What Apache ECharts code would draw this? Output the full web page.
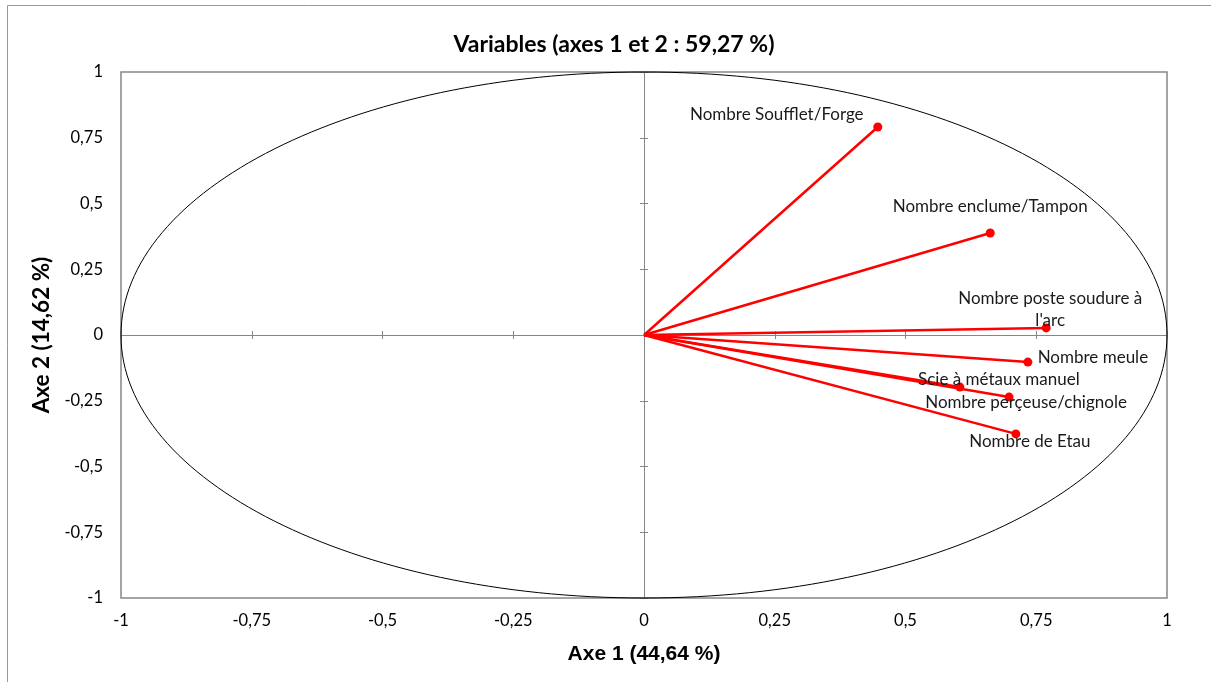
<!DOCTYPE html>
<html>
<head>
<meta charset="utf-8">
<script src="https://cdn.jsdelivr.net/npm/echarts@6/dist/echarts.min.js"></script>
<style>
  html, body { margin: 0; padding: 0; background: #fff; }
  #main { width: 1211px; height: 682px; }
</style>
</head>
<body>
<div id="main"></div>
<script>
// variables of the correlation circle
const varNames = [
  'Nombre Soufflet/Forge',
  'Nombre enclume/Tampon',
  "Nombre poste soudure à\nl'arc",
  'Nombre meule',
  'Scie à métaux manuel',
  'Nombre perçeuse/chignole',
  'Nombre de Etau'
]
const axe1 = [0.447, 0.662, 0.769, 0.734, 0.604, 0.698, 0.711]
const axe2 = [0.791, 0.388, 0.027, -0.103, -0.198, -0.236, -0.376]

// label placement (pixels from the point)
const labelOffsets = [[-101, -12], [0, -26], [4, -18], [65, -5], [39, -8], [17, 5], [14, 8]]

const font = 'Lato'
const gray = '#868686'
const fmt = v => String(v).replace('.', ',')

const chart = echarts.init(document.getElementById('main'))

const gridBox = { left: 121, top: 72, right: 44, bottom: 84 }
const valAxis = {
  type: 'value', min: -1, max: 1, interval: 0.25
}

let series = []
varNames.forEach((name, i) => {
  series.push({
    type: 'line',
    xAxisIndex: 0, yAxisIndex: 0,
    data: [[0, 0], [axe1[i], axe2[i]]],
    showSymbol: false,
    lineStyle: { color: '#ff0000', width: 2.5 },
    z: 3,
    silent: true
  })
})
series.push({
  type: 'scatter',
  xAxisIndex: 0, yAxisIndex: 0,
  data: varNames.map((n, i) => ({
    value: [axe1[i], axe2[i]],
    name: n,
    label: { offset: labelOffsets[i] }
  })),
  symbolSize: 9,
  itemStyle: { color: '#ff0000', opacity: 1 },
  label: {
    show: true,
    position: 'inside',
    formatter: p => p.name,
    color: '#1a1a1a',
    fontFamily: font,
    fontSize: 17,
    lineHeight: 22
  },
  z: 4
})
// unit circle
series.push({
  type: 'custom',
  xAxisIndex: 0, yAxisIndex: 0,
  data: [[0, 0]],
  silent: true,
  z: 2,
  renderItem: (params, api) => {
    const c = api.coord([0, 0])
    const px = api.coord([1, 0])
    const py = api.coord([0, 1])
    return {
      type: 'ellipse',
      shape: { cx: c[0], cy: c[1], rx: px[0] - c[0], ry: c[1] - py[1] },
      style: { fill: null, stroke: '#000', lineWidth: 1 }
    }
  }
})
// empty series for the helper grids
series.push({ type: 'line', xAxisIndex: 1, yAxisIndex: 1, data: [], silent: true })
series.push({ type: 'line', xAxisIndex: 2, yAxisIndex: 2, data: [], silent: true })

chart.setOption({
  animation: false,
  title: {
    text: 'Variables (axes 1 et 2 : 59,27 %)',
    left: 609, top: 28, textAlign: 'center',
    textStyle: { fontFamily: font, fontWeight: 'bold', fontSize: 23, color: '#000' }
  },
  graphic: [{
    type: 'rect',
    shape: { x: 7.5, y: 5.5, width: 1300, height: 800 },
    style: { fill: null, stroke: '#999', lineWidth: 1 },
    silent: true
  }],
  grid: [
    Object.assign({ show: true, borderColor: gray, borderWidth: 1.5, backgroundColor: 'transparent' }, gridBox),
    Object.assign({}, gridBox),
    Object.assign({}, gridBox)
  ],
  xAxis: [
    Object.assign({}, valAxis, {
      gridIndex: 0, position: 'bottom',
      axisLine: { show: false, onZero: false },
      axisTick: { show: false },
      splitLine: { show: false },
      axisLabel: { formatter: fmt, margin: 14, fontFamily: font, fontSize: 16.5, color: '#000' },
      name: 'Axe 1 (44,64 %)', nameLocation: 'middle', nameGap: 46,
      nameTextStyle: { fontFamily: 'Liberation Sans', fontWeight: 'bold', fontSize: 21, color: '#000' }
    }),
    Object.assign({}, valAxis, {
      gridIndex: 1, position: 'bottom',
      axisLine: { show: true, onZero: true, lineStyle: { color: gray, width: 1 } },
      axisTick: { show: true, length: 4, lineStyle: { color: gray } },
      splitLine: { show: false },
      axisLabel: { show: false }
    }),
    Object.assign({}, valAxis, {
      gridIndex: 2, position: 'top',
      axisLine: { show: false, onZero: true },
      axisTick: { show: true, length: 4, lineStyle: { color: gray } },
      splitLine: { show: false },
      axisLabel: { show: false }
    })
  ],
  yAxis: [
    Object.assign({}, valAxis, {
      gridIndex: 0, position: 'left',
      axisLine: { show: false, onZero: false },
      axisTick: { show: false },
      splitLine: { show: false },
      axisLabel: { formatter: fmt, margin: 18, fontFamily: font, fontSize: 16.5, color: '#000' },
      name: 'Axe 2 (14,62 %)', nameLocation: 'middle', nameGap: 63,
      nameTextStyle: { fontFamily: font, fontWeight: 'bold', fontSize: 22.5, color: '#000' }
    }),
    Object.assign({}, valAxis, {
      gridIndex: 1, position: 'left',
      axisLine: { show: true, onZero: true, lineStyle: { color: gray, width: 1 } },
      axisTick: { show: true, length: 4, lineStyle: { color: gray } },
      splitLine: { show: false },
      axisLabel: { show: false }
    }),
    Object.assign({}, valAxis, {
      gridIndex: 2, position: 'right',
      axisLine: { show: false, onZero: true },
      axisTick: { show: true, length: 4, lineStyle: { color: gray } },
      splitLine: { show: false },
      axisLabel: { show: false }
    })
  ],
  series: series
})
</script>
</body>
</html>
